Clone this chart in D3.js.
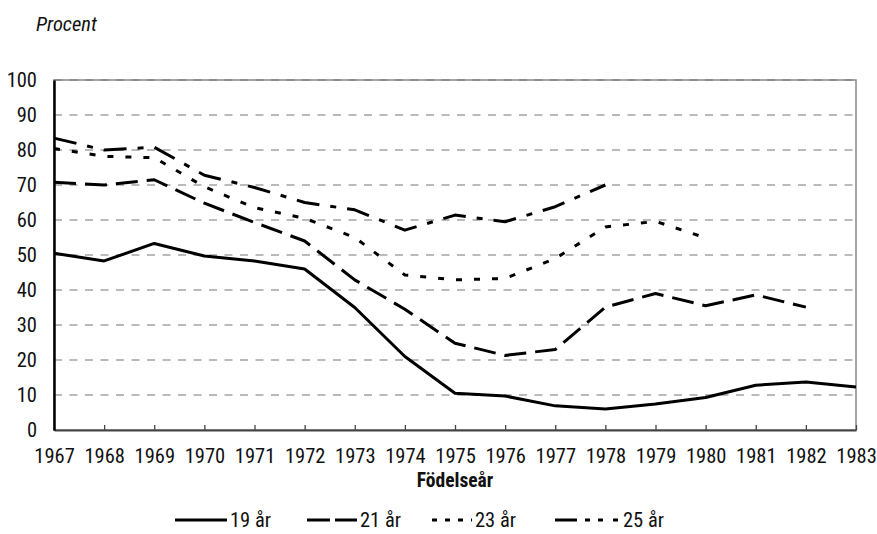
<!DOCTYPE html>
<meta charset="utf-8">
<style>
body { margin: 0; background: #fff; }
text { font-family: "Liberation Sans Narrow", "Roboto Condensed", "DejaVu Sans Condensed", sans-serif; fill: #111; }
.grid line { stroke: #777; stroke-width: 1.2px; stroke-dasharray: 8,7.5; }
.series { fill: none; stroke: #000; stroke-width: 3px; stroke-linejoin: round; }
</style>
<body>
<script src="https://d3js.org/d3.v7.min.js"></script>
<script>

// data
var years = [1967, 1968, 1969, 1970, 1971, 1972, 1973, 1974, 1975, 1976, 1977, 1978, 1979, 1980, 1981, 1982, 1983];
var age19 = [50.5, 48.3, 53.3, 49.7, 48.3, 46.0, 35.0, 21.0, 10.5, 9.7, 6.9, 6.0, 7.4, 9.3, 12.8, 13.7, 12.3];
var age21 = [70.8, 70.0, 71.5, 64.8, 59.3, 54.0, 42.9, 34.5, 24.8, 21.3, 23.0, 35.1, 39.0, 35.5, 38.6, 35.1, null];
var age23 = [80.4, 78.2, 77.8, 69.5, 63.5, 60.5, 55.0, 44.3, 42.9, 43.3, 49.0, 58.0, 59.6, 54.9, null, null, null];
var age25 = [83.4, 80.0, 80.8, 72.8, 69.3, 65.0, 62.9, 57.1, 61.4, 59.5, 63.8, 70.0, null, null, null, null, null];
var yTicks = [0, 10, 20, 30, 40, 50, 60, 70, 80, 90, 100];
var seriesNames = ["19 år", "21 år", "23 år", "25 år"];

var series = [
  {name: seriesNames[0], values: age19, dash: null,           legendDash: null},
  {name: seriesNames[1], values: age21, dash: "22,9",         legendDash: "23,5"},
  {name: seriesNames[2], values: age23, dash: "6,12",         legendDash: "5,8"},
  {name: seriesNames[3], values: age25, dash: "23,11,6,11",   legendDash: "22,8,5,8,5,10,5,60"}
];

var width = 877, height = 534;
var margin = {top: 80, right: 21, bottom: 104, left: 54};
var fontSize = "20.5px";

var svg = d3.select("body").append("svg")
    .attr("width", width)
    .attr("height", height);

var x = d3.scaleLinear()
    .domain([years[0], years[years.length - 1]])
    .range([margin.left, width - margin.right]);

var y = d3.scaleLinear()
    .domain([0, 100])
    .range([height - margin.bottom, margin.top]);

// title above y axis
svg.append("text")
    .attr("x", 36)
    .attr("y", 31)
    .style("font-size", fontSize)
    .style("font-style", "italic")
    .text("Procent");

// plot frame (top + right)
svg.append("rect")
    .attr("x", x.range()[0])
    .attr("y", y(100))
    .attr("width", x.range()[1] - x.range()[0])
    .attr("height", y(0) - y(100))
    .attr("fill", "none")
    .attr("stroke", "#888")
    .attr("stroke-width", 1.5);

// dashed gridlines
svg.append("g")
    .attr("class", "grid")
    .selectAll("line")
    .data(yTicks.slice(1))
    .join("line")
    .attr("x1", x.range()[0])
    .attr("x2", x.range()[1])
    .attr("y1", function(d) { return y(d); })
    .attr("y2", function(d) { return y(d); });

// x axis, ticks pointing up into the plot
var xAxis = svg.append("g")
    .attr("transform", "translate(0," + y(0) + ")")
    .call(d3.axisBottom(x)
        .tickValues(years)
        .tickFormat(d3.format("d"))
        .tickSizeInner(-5)
        .tickSizeOuter(0)
        .tickPadding(18));
xAxis.select(".domain").attr("stroke", "#444").attr("stroke-width", 2);
xAxis.selectAll(".tick line").attr("stroke", "#444").attr("stroke-width", 1.3);
xAxis.selectAll("text").style("font-size", fontSize).attr("fill", "#111");

// y axis
var yAxis = svg.append("g")
    .attr("transform", "translate(" + x.range()[0] + ",0)")
    .call(d3.axisLeft(y)
        .tickValues(yTicks)
        .tickSize(0)
        .tickPadding(17));
yAxis.select(".domain").attr("stroke", "#000").attr("stroke-width", 2.5);
yAxis.selectAll("text").style("font-size", fontSize).attr("fill", "#111");

// axis title
svg.append("text")
    .attr("x", (x.range()[0] + x.range()[1]) / 2)
    .attr("y", 487)
    .attr("text-anchor", "middle")
    .style("font-size", "19.5px")
    .style("font-weight", "bold")
    .text("Födelseår");

// series lines
var line = d3.line()
    .defined(function(d) { return d[1] != null; })
    .x(function(d) { return x(d[0]); })
    .y(function(d) { return y(d[1]); });

svg.selectAll("path.series")
    .data(series)
    .join("path")
    .attr("class", "series")
    .attr("stroke-dasharray", function(d) { return d.dash; })
    .attr("d", function(d) {
      return line(years.map(function(yr, i) { return [yr, d.values[i]]; }));
    });

// legend
var legendX = [230, 360, 475, 623];
var legendLen = [55, 53, 43, 68];
var legend = svg.append("g")
    .selectAll("g")
    .data(series)
    .join("g");

legend.append("line")
    .attr("class", "series")
    .attr("x1", function(d, i) { return legendX[i] - legendLen[i]; })
    .attr("x2", function(d, i) { return legendX[i] - 3; })
    .attr("y1", 520)
    .attr("y2", 520)
    .attr("stroke-dasharray", function(d) { return d.legendDash; });

legend.append("text")
    .attr("x", function(d, i) { return legendX[i]; })
    .attr("y", 527)
    .style("font-size", fontSize)
    .text(function(d) { return d.name; });

</script>
</body>
